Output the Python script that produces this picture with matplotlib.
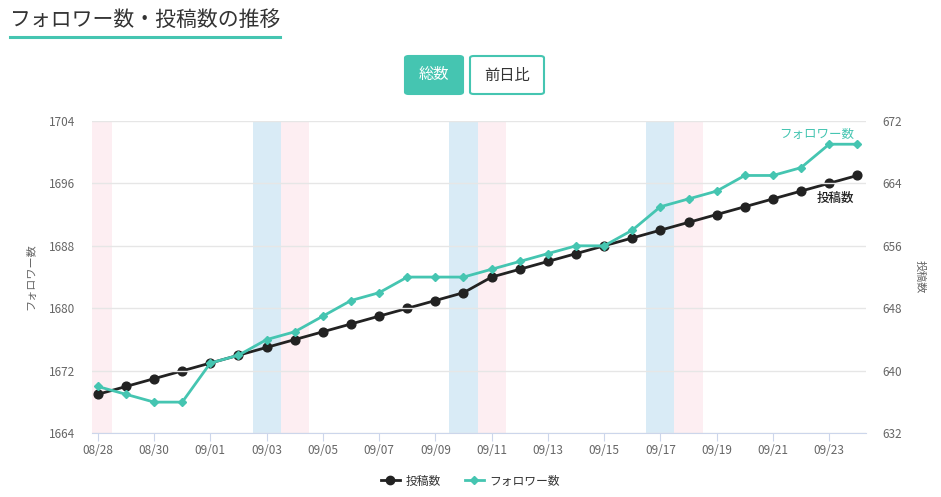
import matplotlib.pyplot as plt
from matplotlib.patches import FancyBboxPatch
from matplotlib.lines import Line2D

plt.rcParams['font.family'] = ['Noto Sans CJK JP', 'DejaVu Sans']

dates = ['08/28', '08/29', '08/30', '08/31', '09/01', '09/02', '09/03',
         '09/04', '09/05', '09/06', '09/07', '09/08', '09/09', '09/10',
         '09/11', '09/12', '09/13', '09/14', '09/15', '09/16', '09/17',
         '09/18', '09/19', '09/20', '09/21', '09/22', '09/23', '09/24']
followers = [1670, 1669, 1668, 1668, 1673, 1674, 1676, 1677, 1679, 1681,
             1682, 1684, 1684, 1684, 1685, 1686, 1687, 1688, 1688, 1690,
             1693, 1694, 1695, 1697, 1697, 1698, 1701, 1701]
posts = [637, 638, 639, 640, 641, 642, 643, 644, 645, 646,
         647, 648, 649, 650, 652, 653, 654, 655, 656, 657,
         658, 659, 660, 661, 662, 663, 664, 665]
saturdays = ['09/03', '09/10', '09/17']
sundays = ['08/28', '09/04', '09/11', '09/18']

TEAL = '#45c5b1'
BLACK = '#222222'
GRAY = '#666666'

fig = plt.figure(figsize=(9.41, 4.97), dpi=100)
ax = fig.add_axes([0.0974, 0.128, 0.8226, 0.629])
ax2 = ax.twinx()

x = list(range(len(dates)))

# weekend bands sit on the lower (right) axes so both lines stay visible
for d in saturdays:
    i = dates.index(d)
    ax2.axvspan(i - 0.5, i + 0.5, color='#d9ebf6', lw=0, zorder=0)
for d in sundays:
    i = dates.index(d)
    ax2.axvspan(i - 0.5, i + 0.5, color='#fdeef2', lw=0, zorder=0)

ax2.plot(x, posts, color=BLACK, lw=2, marker='o', ms=6.3, zorder=3)
ax.plot(x, followers, color=TEAL, lw=2, marker='D', ms=4.5, zorder=4)
ax.set_zorder(ax2.get_zorder() + 1)
ax.patch.set_visible(False)

ax.set_xlim(-0.22, len(dates) - 1 + 0.3)
ax.set_ylim(1664, 1704)
ax2.set_ylim(632, 672)
ax.set_yticks(range(1664, 1705, 8))
ax2.set_yticks(range(632, 673, 8))
ax.set_xticks(x[::2])
ax.set_xticklabels(dates[::2])

ax.grid(axis='y', color='#e6e6e6', lw=1)
ax.set_axisbelow(True)

for a in (ax, ax2):
    for s in a.spines.values():
        s.set_visible(False)
    a.tick_params(axis='y', length=0, labelsize=8.5, labelcolor=GRAY, pad=12)
ax.spines['bottom'].set_visible(True)
ax.spines['bottom'].set_color('#ccd6eb')
ax.tick_params(axis='x', length=6, color='#ccd6eb', labelsize=8.5,
               labelcolor=GRAY, pad=2)

ax.set_ylabel('フォロワー数', fontsize=8, color=GRAY, labelpad=9)
ax2.set_ylabel('投稿数', fontsize=8, color=GRAY, rotation=-90, labelpad=16)

ax.text(len(dates) - 1 - 0.1, 1702.3, 'フォロワー数', color=TEAL, fontsize=9,
        ha='right', va='center')
ax2.text(len(dates) - 1 - 0.1, 662.0, '投稿数', color=BLACK, fontsize=9,
         ha='right', va='center', fontweight='medium')

# title with underline
fig.text(10 / 941, 1 - 20 / 497, 'フォロワー数・投稿数の推移', fontsize=15,
         color='#333333', ha='left', va='center')
fig.add_artist(Line2D([10 / 941, 280 / 941], [1 - 37 / 497] * 2,
                      color=TEAL, lw=2.2))

# toggle buttons
btn1 = FancyBboxPatch((405 / 941, 1 - 94 / 497), 58 / 941, 38 / 497,
                      boxstyle='round,pad=0,rounding_size=0.004',
                      transform=fig.transFigure, facecolor=TEAL,
                      edgecolor=TEAL, lw=1.5)
btn2 = FancyBboxPatch((470 / 941, 1 - 94 / 497), 74 / 941, 38 / 497,
                      boxstyle='round,pad=0,rounding_size=0.004',
                      transform=fig.transFigure, facecolor='white',
                      edgecolor=TEAL, lw=1.5)
fig.add_artist(btn1)
fig.add_artist(btn2)
fig.text(434 / 941, 1 - 75 / 497, '総数', color='white', fontsize=11,
         ha='center', va='center')
fig.text(507 / 941, 1 - 75 / 497, '前日比', color='#333333', fontsize=11,
         ha='center', va='center')

handles = [
    Line2D([], [], color=BLACK, lw=2, marker='o', ms=6),
    Line2D([], [], color=TEAL, lw=2, marker='D', ms=4),
]
fig.legend(handles, ['投稿数', 'フォロワー数'], loc='center',
           bbox_to_anchor=(0.5, 1 - 481 / 497), ncol=2, frameon=False,
           fontsize=8.5, handlelength=1.6, handletextpad=0.5,
           columnspacing=2.0, labelcolor='#333333')

fig.savefig('out.png', dpi=100)
